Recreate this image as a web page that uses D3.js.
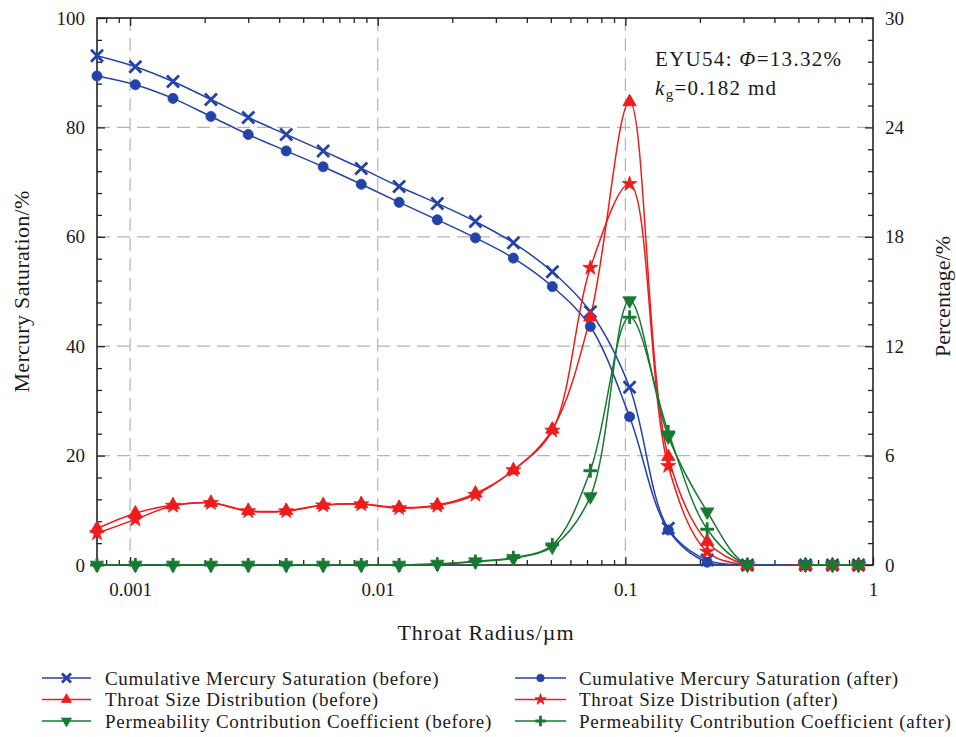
<!DOCTYPE html>
<html>
<head>
<meta charset="utf-8">
<script src="https://cdn.jsdelivr.net/npm/d3@7"></script>
<style>
  html, body { margin: 0; padding: 0; background: #fff; }
  svg { display: block; }
  text { font-family: "Liberation Serif", "Times New Roman", Times, "DejaVu Serif", "Noto Serif", serif; fill: #1a1a1a; }
</style>
</head>
<body>
<svg id="chart" width="956" height="737"></svg>
<script>
// Throat radius (µm) of each mercury-injection step
const radius = [0.000735, 0.00105, 0.00149, 0.00212, 0.00300, 0.00427, 0.00602, 0.00858, 0.0122, 0.0174,
                0.0248, 0.0353, 0.0507, 0.0722, 0.104, 0.149, 0.214, 0.311, 0.534, 0.686, 0.874];

// Cumulative mercury saturation, % (left axis)
const satBefore = [93.1, 91.1, 88.4, 85.1, 81.8, 78.7, 75.7, 72.5, 69.2, 66.1,
                   62.8, 58.9, 53.6, 46.3, 32.5, 6.7, 0.9, 0, 0, 0, 0];
const satAfter  = [89.4, 87.8, 85.3, 82.0, 78.7, 75.7, 72.8, 69.6, 66.3, 63.1,
                   59.8, 56.1, 50.9, 43.6, 27.1, 6.4, 0.5, 0, 0, 0, 0];

// Throat size distribution, % (right axis)
const tsdBefore = [2.0, 2.84, 3.29, 3.42, 2.98, 2.98, 3.29, 3.35, 3.15, 3.29,
                   3.93, 5.2, 7.44, 13.6, 25.4, 5.94, 1.28, 0, 0, 0, 0];
const tsdAfter  = [1.74, 2.5, 3.25, 3.4, 2.95, 2.95, 3.27, 3.33, 3.12, 3.25,
                   3.85, 5.2, 7.37, 16.3, 20.9, 5.43, 0.73, 0, 0, 0, 0];

// Permeability contribution coefficient, % (right axis)
const pccBefore = [0, 0, 0, 0, 0, 0, 0, 0, 0, 0.05,
                   0.18, 0.37, 1.0, 3.75, 14.5, 7.04, 2.92, 0, 0, 0, 0];
const pccAfter  = [0, 0, 0, 0, 0, 0, 0, 0, 0, 0.05,
                   0.2, 0.4, 1.1, 5.17, 13.6, 7.3, 1.96, 0, 0, 0, 0];

// Axis ticks
const xTickValues = [0.001, 0.01, 0.1, 1];
const xTickLabels = ["0.001", "0.01", "0.1", "1"];
const leftTicks = [0, 20, 40, 60, 80, 100];
const rightTicks = [0, 6, 12, 18, 24, 30];

const BLUE = "#2343a8", RED = "#ee1c1c", GREEN = "#187a32";
const FONT = '"Liberation Serif", "Times New Roman", Times, "DejaVu Serif", "Noto Serif", serif';

const series = [
  { name: "Cumulative Mercury Saturation (before)", values: satBefore, axis: "L", color: BLUE, marker: "x" },
  { name: "Cumulative Mercury Saturation (after)",  values: satAfter,  axis: "L", color: BLUE, marker: "circle" },
  { name: "Throat Size Distribution (before)",      values: tsdBefore, axis: "R", color: RED,  marker: "triUp" },
  { name: "Throat Size Distribution (after)",       values: tsdAfter,  axis: "R", color: RED,  marker: "star" },
  { name: "Permeability Contribution Coefficient (before)", values: pccBefore, axis: "R", color: GREEN, marker: "triDown" },
  { name: "Permeability Contribution Coefficient (after)",  values: pccAfter,  axis: "R", color: GREEN, marker: "plus" }
];

const L = 97, R = 873, T = 18, B = 565;
const svg = d3.select("#chart").attr("font-family", FONT);

const x = d3.scaleLog().domain([0.000735, 1]).range([L, R]);
const yL = d3.scaleLinear().domain([0, 100]).range([B, T]);
const yR = d3.scaleLinear().domain([0, 30]).range([B, T]);

svg.append("defs").append("clipPath").attr("id", "plot-clip")
  .append("rect").attr("x", L).attr("y", T).attr("width", R - L).attr("height", B - T + 0.5);

// Dashed grid
const grid = svg.append("g").attr("stroke", "#b4b4b4").attr("stroke-width", 1.2)
  .attr("stroke-dasharray", "13,7").attr("fill", "none");
grid.selectAll("line.h").data([20, 40, 60, 80]).join("line")
  .attr("x1", L).attr("x2", R).attr("y1", d => yL(d)).attr("y2", d => yL(d));
grid.selectAll("line.v").data([0.001, 0.01, 0.1]).join("line")
  .attr("y1", T).attr("y2", B).attr("x1", d => x(d)).attr("x2", d => x(d));

// Axes with inward ticks
function styleAxis(g) {
  g.attr("font-family", FONT);
  g.select(".domain").remove();
  g.selectAll(".tick line").attr("stroke", "#222").attr("stroke-width", 1.3);
  g.selectAll("text").attr("font-size", 19).attr("fill", "#1a1a1a").attr("font-family", FONT);
}
const leftMinor = d3.range(0, 101, 4).filter(v => v % 20 !== 0);
const rightMinor = leftMinor.map(v => v * 0.3);
const logMinor = x.ticks().filter(v => !xTickValues.some(m => Math.abs(m - v) / m < 1e-6));

svg.append("g").attr("transform", `translate(${L},0)`)
  .call(d3.axisLeft(yL).tickValues(leftTicks).tickSize(-8).tickPadding(12)).call(styleAxis);
svg.append("g").attr("transform", `translate(${L},0)`)
  .call(d3.axisLeft(yL).tickValues(leftMinor).tickSize(-5).tickFormat("")).call(styleAxis);
svg.append("g").attr("transform", `translate(${R},0)`)
  .call(d3.axisRight(yR).tickValues(rightTicks).tickSize(-8).tickPadding(12).tickFormat(d3.format("d"))).call(styleAxis);
svg.append("g").attr("transform", `translate(${R},0)`)
  .call(d3.axisRight(yR).tickValues(rightMinor).tickSize(-5).tickFormat("")).call(styleAxis);
svg.append("g").attr("transform", `translate(0,${B})`)
  .call(d3.axisBottom(x).tickValues(xTickValues).tickSize(-8).tickPadding(18)
    .tickFormat((d, i) => xTickLabels[i])).call(styleAxis);
svg.append("g").attr("transform", `translate(0,${B})`)
  .call(d3.axisBottom(x).tickValues(logMinor).tickSize(-5).tickFormat("")).call(styleAxis);
svg.append("g").attr("transform", `translate(0,${T})`)
  .call(d3.axisTop(x).tickValues(xTickValues.filter(v => v < 1)).tickSize(-8).tickFormat("")).call(styleAxis);
svg.append("g").attr("transform", `translate(0,${T})`)
  .call(d3.axisTop(x).tickValues(logMinor).tickSize(-5).tickFormat("")).call(styleAxis);

// Frame
svg.append("rect").attr("x", L).attr("y", T).attr("width", R - L).attr("height", B - T)
  .attr("fill", "none").attr("stroke", "#222").attr("stroke-width", 1.6);

// Marker shapes
function drawMarker(sel, type, color, s) {
  if (type === "x") {
    sel.append("path").attr("d", `M${-s},${-s}L${s},${s}M${-s},${s}L${s},${-s}`)
      .attr("stroke", color).attr("stroke-width", 2.8).attr("fill", "none");
  } else if (type === "plus") {
    const p = s * 1.15;
    sel.append("path").attr("d", `M${-p},0L${p},0M0,${-p}L0,${p}`)
      .attr("stroke", color).attr("stroke-width", 2.8).attr("fill", "none");
  } else {
    const sym = { circle: d3.symbolCircle, triUp: d3.symbolTriangle, triDown: d3.symbolTriangle, star: d3.symbolStar }[type];
    const area = { circle: 80, triUp: 78, triDown: 78, star: 70 }[type] * (s / 6) * (s / 6);
    sel.append("path").attr("d", d3.symbol(sym, area)())
      .attr("transform", type === "triDown" ? "rotate(180)" : null)
      .attr("fill", color).attr("stroke", color).attr("stroke-width", 0.8);
  }
}

// Curves (clipped at the zero line) and markers
const curves = svg.append("g").attr("clip-path", "url(#plot-clip)");
series.forEach(s => {
  const y = s.axis === "L" ? yL : yR;
  const pts = radius.map((r, i) => [x(r), y(s.values[i])]);
  curves.append("path").datum(pts)
    .attr("d", d3.line().curve(d3.curveCatmullRom.alpha(0.5)))
    .attr("fill", "none").attr("stroke", s.color).attr("stroke-width", 1.5);
});
const marks = svg.append("g");
series.forEach(s => {
  const y = s.axis === "L" ? yL : yR;
  radius.forEach((r, i) => {
    const g = marks.append("g").attr("transform", `translate(${x(r)},${y(s.values[i])})`);
    drawMarker(g, s.marker, s.color, 6);
  });
});

// Axis titles
svg.append("text").attr("x", (L + R) / 2 + 1).attr("y", 640).attr("text-anchor", "middle")
  .attr("font-size", 22).attr("letter-spacing", 1).text("Throat Radius/µm");
svg.append("text").attr("transform", `translate(29,${(T + B) / 2}) rotate(-90)`)
  .attr("text-anchor", "middle").attr("font-size", 22).attr("letter-spacing", 0.3).text("Mercury Saturation/%");
svg.append("text").attr("transform", `translate(950,${(T + B) / 2 + 5}) rotate(-90)`)
  .attr("text-anchor", "middle").attr("font-size", 22).text("Percentage/%");

// Sample annotation
const ann1 = svg.append("text").attr("x", 655).attr("y", 66).attr("font-size", 21).attr("letter-spacing", 1.3);
ann1.append("tspan").text("EYU54: ");
ann1.append("tspan").attr("font-style", "italic").text("Φ");
ann1.append("tspan").text("=13.32%");
const ann2 = svg.append("text").attr("x", 655).attr("y", 95).attr("font-size", 21).attr("letter-spacing", 1.3);
ann2.append("tspan").attr("font-style", "italic").text("k");
ann2.append("tspan").attr("font-size", 15).attr("dy", 4).text("g");
ann2.append("tspan").attr("dy", -4).text("=0.182 md");

// Legend
const legend = svg.append("g");
series.forEach((s, i) => {
  const col = i % 2, row = Math.floor(i / 2);
  const x0 = col === 0 ? 42 : 515, x1 = col === 0 ? 91 : 566;
  const yy = 678 + row * 21.5;
  const g = legend.append("g");
  g.append("line").attr("x1", x0).attr("x2", x1).attr("y1", yy).attr("y2", yy)
    .attr("stroke", s.color).attr("stroke-width", 1.5);
  drawMarker(g.append("g").attr("transform", `translate(${(x0 + x1) / 2},${yy})`), s.marker, s.color, 4.5);
  g.append("text").attr("x", col === 0 ? 105 : 579).attr("y", yy + 6.5)
    .attr("font-size", 19).attr("letter-spacing", 0.7).text(s.name);
});
</script>
</body>
</html>
